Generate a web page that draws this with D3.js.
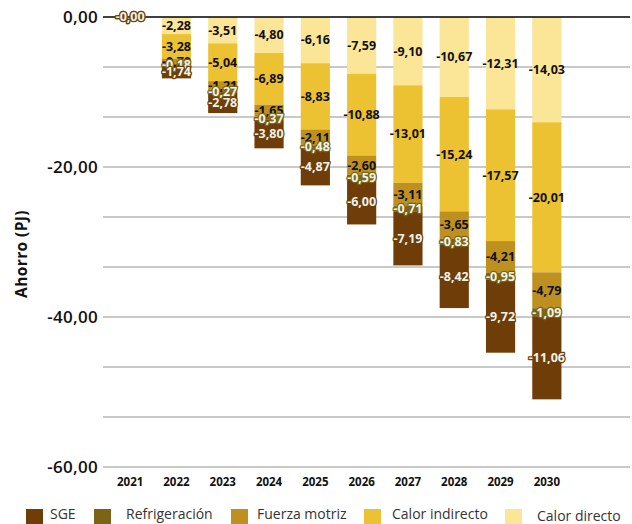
<!DOCTYPE html>
<html lang="es">
<head>
<meta charset="utf-8">
<script src="https://cdn.jsdelivr.net/npm/d3@7/dist/d3.min.js"></script>
<style>
  html, body { margin: 0; padding: 0; background: #ffffff; }
  svg { display: block; font-family: "Open Sans", "Noto Sans", sans-serif; }
</style>
</head>
<body>
<svg id="chart" width="632" height="524"></svg>
<script>
// Años proyectados
const years = ["2021", "2022", "2023", "2024", "2025", "2026", "2027", "2028", "2029", "2030"];

// Ahorro por uso final (PJ)
const calorDirecto   = [-0, -2.28, -3.51, -4.80, -6.16, -7.59, -9.10, -10.67, -12.31, -14.03];
const calorIndirecto = [-0, -3.28, -5.04, -6.89, -8.83, -10.88, -13.01, -15.24, -17.57, -20.01];
const fuerzaMotriz   = [-0, -0.70, -1.21, -1.65, -2.11, -2.60, -3.11, -3.65, -4.21, -4.79];
const refrigeracion  = [-0, -0.18, -0.27, -0.37, -0.48, -0.59, -0.71, -0.83, -0.95, -1.09];
const sge            = [-0, -1.74, -2.78, -3.80, -4.87, -6.00, -7.19, -8.42, -9.72, -11.06];

// Series, stacked from zero downward in this order
const seriesKeys   = ["calorDirecto", "calorIndirecto", "fuerzaMotriz", "refrigeracion", "sge"];
const seriesNames  = ["Calor directo", "Calor indirecto", "Fuerza motriz", "Refrigeración", "SGE"];
const seriesValues = [calorDirecto, calorIndirecto, fuerzaMotriz, refrigeracion, sge];
const seriesColors = ["#fbe597", "#ecc232", "#bd901f", "#7d6315", "#6f3d08"];
const lightLabel   = [false, false, false, true, true];

// Legend order
const legendKeys = ["sge", "refrigeracion", "fuerzaMotriz", "calorIndirecto", "calorDirecto"];

// Axis ticks
const yTickLabels = [0, -20, -40, -60];
const yDomain = [-60, 0];

const rows = years.map((y, i) => {
  const r = { year: y };
  seriesKeys.forEach((k, j) => { r[k] = seriesValues[j][i]; });
  return r;
});

const svg = d3.select("#chart");

const x = d3.scaleBand()
  .domain(years)
  .range([107, 570])
  .paddingInner(0.37)
  .paddingOuter(0.185);

const y = d3.scaleLinear()
  .domain(yDomain)
  .range([467, 17]);

const fmt = v => ((v < 0 || Object.is(v, -0)) ? "-" : "") + Math.abs(v).toFixed(2).replace(".", ",");

// Gridlines every 20/3 PJ
const gridVals = d3.range(0, 20).map(i => -i * 20 / 3).filter(v => v >= -60.001);
svg.append("g")
  .selectAll("line")
  .data(gridVals.filter(v => v !== 0))
  .join("line")
  .attr("x1", 103).attr("x2", 630)
  .attr("y1", d => y(d)).attr("y2", d => y(d))
  .attr("stroke", "#c9c9c9")
  .attr("stroke-width", 2);

// Y axis labels
const yAxis = svg.append("g")
  .attr("transform", "translate(98,0)")
  .call(d3.axisLeft(y).tickValues(yTickLabels).tickSize(0).tickPadding(0).tickFormat(d => d.toFixed(2).replace(".", ",")));
yAxis.select(".domain").remove();
yAxis.selectAll("text")
  .attr("font-size", 17)
  .attr("font-weight", 600)
  .attr("letter-spacing", 0.3)
  .attr("fill", "#111")
  .attr("font-family", "'Open Sans', sans-serif");

// Axis title
svg.append("text")
  .attr("transform", "translate(27,254) rotate(-90)")
  .attr("text-anchor", "middle")
  .attr("font-size", 15.5)
  .attr("font-weight", 700)
  .attr("letter-spacing", 0.4)
  .attr("fill", "#111")
  .text("Ahorro (PJ)");

// Stacked bars
const stack = d3.stack().keys(seriesKeys).offset(d3.stackOffsetDiverging);
const stacked = stack(rows);

const layers = svg.append("g")
  .selectAll("g")
  .data(stacked)
  .join("g")
  .attr("fill", (d, i) => seriesColors[i]);

layers.selectAll("rect")
  .data(d => d)
  .join("rect")
  .attr("x", d => x(d.data.year))
  .attr("width", x.bandwidth())
  .attr("y", d => y(Math.max(d[0], d[1])))
  .attr("height", d => Math.abs(y(d[0]) - y(d[1])));

// Zero line
svg.append("line")
  .attr("x1", 103).attr("x2", 630)
  .attr("y1", y(0)).attr("y2", y(0))
  .attr("stroke", "#000")
  .attr("stroke-width", 1.5);

// Value labels
const labelLayers = svg.append("g")
  .selectAll("g")
  .data(stacked)
  .join("g");

labelLayers.each(function (layer, i) {
  d3.select(this).selectAll("text")
    .data(layer)
    .join("text")
    .attr("x", d => x(d.data.year) + x.bandwidth() / 2)
    .attr("y", d => y((d[0] + d[1]) / 2))
    .attr("dy", "0.35em")
    .attr("text-anchor", "middle")
    .attr("font-size", 12.5)
    .attr("font-weight", 700)
    .attr("fill", lightLabel[i] ? "#eef4e8" : "#111")
    .attr("stroke", lightLabel[i] ? seriesColors[i] : "none")
    .attr("stroke-width", lightLabel[i] ? 2.5 : 0)
    .attr("paint-order", "stroke")
    .attr("stroke-linejoin", "round")
    .text(d => fmt(d.data[layer.key]));
});

// X axis year labels
const xAxis = svg.append("g")
  .attr("transform", "translate(0,478)")
  .call(d3.axisBottom(x).tickSize(0).tickPadding(0));
xAxis.select(".domain").remove();
xAxis.selectAll("text")
  .attr("font-size", 11.5)
  .attr("font-weight", 700)
  .attr("fill", "#111")
  .attr("font-family", "'Open Sans', sans-serif");

// Legend
const legendX = [26, 94, 231, 364, 505];
const legendTextX = [50, 126, 257, 392, 537];
const legend = svg.append("g");
legendKeys.forEach((k, i) => {
  const j = seriesKeys.indexOf(k);
  legend.append("rect")
    .attr("x", legendX[i]).attr("y", 509)
    .attr("width", 17).attr("height", 15)
    .attr("fill", seriesColors[j]);
  legend.append("text")
    .attr("x", legendTextX[i]).attr("y", k === "calorDirecto" ? 521 : 519)
    .attr("font-size", 14)
    .attr("fill", "#333")
    .text(seriesNames[j]);
});
</script>
</body>
</html>
